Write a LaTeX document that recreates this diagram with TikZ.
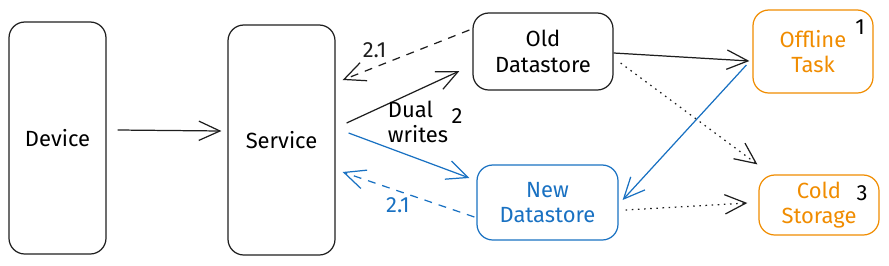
\documentclass[tikz,border=0pt]{standalone}
\usepackage{fontspec}
\setmainfont{Fira Sans}
\usepackage{tikz}
\usetikzlibrary{
arrows.meta,
positioning,
calc
}
\definecolor{xblue}{HTML}{1971C2}
\definecolor{xorange}{HTML}{F08C00}
\definecolor{xblack}{HTML}{1E1E1E}

\begin{document}
\begin{tikzpicture}[
  >={Straight Barb[length=12pt,width=11pt]},
  every node/.style={font=\fontsize{12.5}{14.5}\selectfont},
  box/.style={draw=xblack, line width=0.7pt, rounded corners=9pt,
              align=center, inner sep=0pt},
  arrow/.style={->, line width=0.7pt, xblack},
  dashline/.style={dash pattern=on 4.5pt off 4pt},
  dotline/.style={dash pattern=on 0.9pt off 2.6pt}
]
\useasboundingbox (0,0) rectangle (17.78,5.3);

%% Left column boxes
\node[box, minimum width=1.94cm, minimum height=4.64cm]
  (device) at (1.15, 2.54) {Device};
\node[box, minimum width=2.14cm, minimum height=4.6cm]
  (service) at (5.63, 2.5) {Service};

%% Datastores
\node[box, minimum width=2.8cm, minimum height=1.54cm]
  (olddb) at (10.86, 4.27) {Old\\Datastore};
\node[box, draw=xblue, text=xblue, minimum width=2.82cm, minimum height=1.5cm]
  (newdb) at (10.95, 1.25) {New\\Datastore};

%% Right column
\node[box, draw=xorange, text=xorange, minimum width=2.4cm, minimum height=1.66cm]
  (offline) at (16.26, 4.27) {Offline\\Task};
\node[box, draw=xorange, text=xorange, minimum width=2.4cm, minimum height=1.2cm]
  (cold) at (16.38, 1.2) {Cold\\Storage};

%% Step numbers
\node (n1) at (17.2, 4.76) {1};
\node (n3) at (17.24, 1.44) {3};
\node (n2) at (9.14, 2.98) {2};

%% Arrows
\draw[arrow] ([xshift=0.22cm,yshift=0.16cm]device.east)
  -- ([xshift=-0.12cm,yshift=0.18cm]service.west);
\draw[arrow, dashline] ([xshift=-0.06cm,yshift=0.43cm]olddb.west)
  -- node[pos=0.72, above, xshift=-2pt, yshift=1pt] {2.1}
  ([xshift=0.14cm,yshift=1.2cm]service.east);
\draw[arrow] ([xshift=0.22cm,yshift=0.34cm]service.east)
  -- ([xshift=-0.26cm,yshift=-0.39cm]olddb.west);
\draw[arrow, xblue] ([xshift=0.26cm,yshift=0.14cm]service.east)
  -- ([xshift=-0.14cm,yshift=0.49cm]newdb.west);
\draw[arrow, xblue, dashline] ([xshift=-0.04cm,yshift=-0.29cm]newdb.west)
  -- node[pos=0.58, below, text=xblue] {2.1}
  ([xshift=0.14cm,yshift=-0.64cm]service.east);
\draw[arrow] ([yshift=-0.03cm]olddb.east)
  -- ([xshift=-0.06cm,yshift=-0.19cm]offline.west);
\draw[arrow, xblue] ([xshift=-0.12cm,yshift=-0.27cm]offline.west)
  -- ([xshift=0.08cm,yshift=0.05cm]newdb.east);
\draw[arrow, dotline] ([xshift=0.14cm,yshift=-0.23cm]olddb.east)
  -- ([xshift=-0.02cm,yshift=0.2cm]cold.north west);
\draw[arrow, dotline] ([xshift=0.14cm,yshift=-0.15cm]newdb.east)
  -- ([xshift=-0.22cm,yshift=0.04cm]cold.west);

%% Dual writes label
\node[align=left] (dual) at (8.36, 2.86) {Dual\\writes};

\end{tikzpicture}
\end{document}
